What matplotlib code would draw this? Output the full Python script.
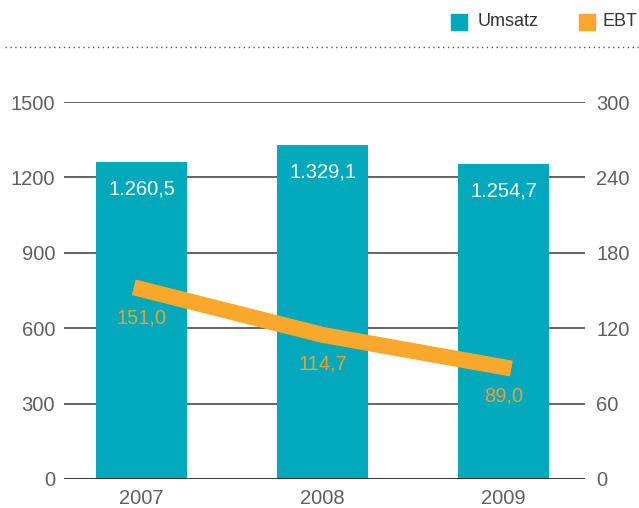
import matplotlib
matplotlib.use("Agg")
import matplotlib.pyplot as plt
import numpy as np

# data
years = ['2007', '2008', '2009']
umsatz = [1260.5, 1329.1, 1254.7]
ebt = [151.0, 114.7, 89.0]
umsatz_labels = ['1.260,5', '1.329,1', '1.254,7']
ebt_labels = ['151,0', '114,7', '89,0']
left_ticks = [0, 300, 600, 900, 1200, 1500]
right_ticks = [0, 60, 120, 180, 240, 300]

teal = '#02a9bc'
orange = '#f9a82b'
grey = '#606060'
fs = 14.5

plt.rcParams['font.family'] = ['Liberation Sans', 'DejaVu Sans']

fig = plt.figure(figsize=(6.39, 5.08), dpi=100)
ax = fig.add_axes([0.0994, 0.0571, 0.8161, 0.7421])
x = np.arange(len(years))

ax.bar(x, umsatz, width=0.5, color=teal, zorder=2)
ax.set_xlim(-0.431, 2.45)
ax.set_ylim(0, 1500)
ax.set_yticks(left_ticks)
ax.set_xticks(x)
ax.set_xticklabels(years)
for t in left_ticks[1:]:
    ax.axhline(t, color='#3a3a3a', lw=1.1, zorder=1)
ax.axhline(0, color='#222222', lw=2, zorder=3)
for s in ax.spines.values():
    s.set_visible(False)
ax.tick_params(axis='both', length=0, labelsize=fs, colors=grey)
ax.tick_params(axis='y', pad=6)
ax.tick_params(axis='x', pad=7)

for xi, v, lab in zip(x, umsatz, umsatz_labels):
    ax.annotate(lab, (xi, v), xytext=(0, -19.5), textcoords='offset points',
                ha='center', va='center', color='white', fontsize=fs,
                zorder=5)

ax2 = ax.twinx()
ax2.set_ylim(0, 300)
ax2.set_yticks(right_ticks)
for s in ax2.spines.values():
    s.set_visible(False)
ax2.tick_params(axis='y', length=0, labelsize=fs, colors=grey, pad=8)
ax2.plot(x, ebt, color=orange, lw=11.5, solid_capstyle='projecting',
         solid_joinstyle='miter', zorder=4)
for xi, v, lab in zip(x, ebt, ebt_labels):
    ax2.annotate(lab, (xi, v), xytext=(0, -21), textcoords='offset points',
                 ha='center', va='center', color='#e8a232', fontsize=fs,
                 zorder=5)

# legend squares and dotted rule at the top
fig.patches.append(plt.Rectangle((451 / 639, 1 - 30 / 508), 16 / 639, 16 / 508,
                                 transform=fig.transFigure, color=teal))
fig.text(478 / 639, 1 - 22 / 508, 'Umsatz', fontsize=13, color='#333333',
         va='center', ha='left')
fig.patches.append(plt.Rectangle((579 / 639, 1 - 30 / 508), 16 / 639, 16 / 508,
                                 transform=fig.transFigure, color=orange))
fig.text(637 / 639, 1 - 22 / 508, 'EBT', fontsize=13, color='#333333',
         va='center', ha='right')
fig.add_artist(plt.Line2D([5 / 639, 1], [1 - 47 / 508, 1 - 47 / 508],
                          transform=fig.transFigure, color='#555555',
                          lw=1, ls=(0, (1, 2.5))))

fig.savefig('out.png', dpi=100)
